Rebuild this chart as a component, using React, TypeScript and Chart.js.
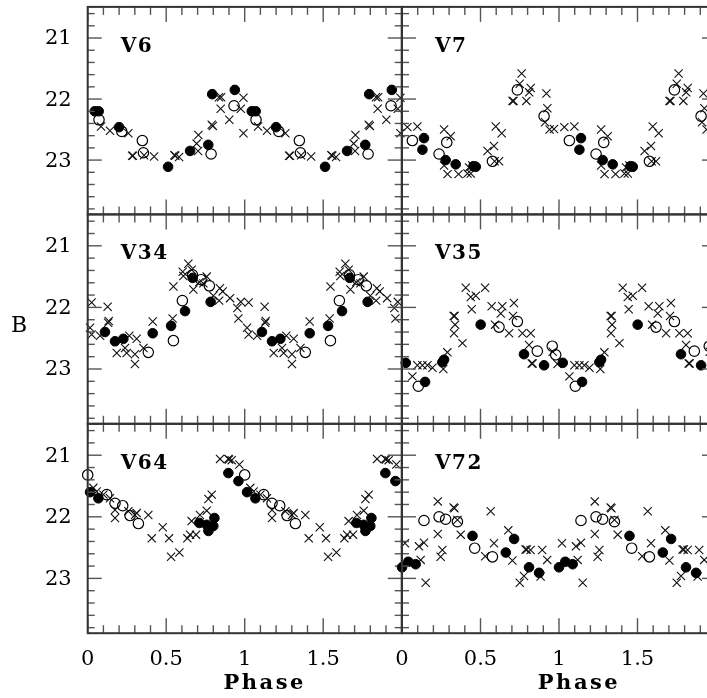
import { useEffect, useRef } from "react";
import { Chart, registerables } from "chart.js";

Chart.register(...registerables);

// ---------- axis labels ----------
const xTickLabels = [0, 0.5, 1, 1.5];
const yTickLabels = [21, 22, 23];
const xAxisTitle = "Phase";
const yAxisTitle = "B";

// ---------- data: [phase, B mag] (phase 0..1, plotted twice) ----------
const v6Filled = [[0.045, 22.2], [0.07, 22.2], [0.2, 22.46], [0.512, 23.11], [0.652, 22.85], [0.768, 22.75], [0.793, 21.92], [0.937, 21.85]];
const v6Open = [[0.072, 22.34], [0.217, 22.53], [0.348, 22.68], [0.355, 22.88], [0.786, 22.9], [0.932, 22.11]];
const v6Cross = [[0.085, 22.45], [0.142, 22.52], [0.259, 22.56], [0.283, 22.93], [0.288, 22.93], [0.359, 22.92], [0.423, 22.94], [0.552, 22.92], [0.558, 22.93], [0.582, 22.95], [0.694, 22.73], [0.703, 22.85], [0.705, 22.59], [0.79, 22.42], [0.797, 22.44], [0.836, 21.97], [0.85, 21.97], [0.847, 22.16], [0.902, 22.34], [0.975, 22.16], [0.992, 21.98], [0.992, 22.56]];

const v7Filled = [[0.13, 22.83], [0.14, 22.64], [0.278, 23.0], [0.342, 23.07], [0.455, 23.1], [0.47, 23.11]];
const v7Open = [[0.066, 22.68], [0.236, 22.9], [0.285, 22.71], [0.576, 23.02], [0.735, 21.85], [0.905, 22.28]];
const v7Cross = [[0.034, 22.46], [0.098, 22.45], [0.268, 22.5], [0.31, 22.61], [0.268, 23.09], [0.29, 23.23], [0.36, 23.23], [0.417, 23.22], [0.427, 23.12], [0.438, 23.22], [0.448, 23.09], [0.545, 22.85], [0.586, 22.77], [0.59, 23.02], [0.597, 22.45], [0.618, 23.02], [0.635, 22.56], [0.704, 22.03], [0.71, 22.03], [0.75, 21.75], [0.762, 21.58], [0.792, 22.03], [0.81, 21.89], [0.82, 21.82], [0.92, 21.91], [0.926, 22.15], [0.911, 22.38], [0.94, 22.5], [0.968, 22.49]];

const v34Filled = [[0.11, 22.4], [0.174, 22.55], [0.227, 22.51], [0.414, 22.42], [0.531, 22.3], [0.62, 22.06], [0.669, 21.52], [0.783, 21.91]];
const v34Open = [[0.386, 22.73], [0.546, 22.54], [0.603, 21.89], [0.667, 21.47], [0.722, 21.55], [0.775, 21.65]];
const v34Cross = [[0.015, 22.33], [0.025, 21.92], [0.025, 22.44], [0.079, 22.46], [0.127, 21.99], [0.13, 22.25], [0.134, 22.22], [0.185, 22.74], [0.238, 22.66], [0.248, 22.74], [0.265, 22.46], [0.301, 22.76], [0.312, 22.51], [0.301, 22.92], [0.355, 22.66], [0.414, 22.23], [0.546, 21.66], [0.541, 22.18], [0.605, 21.42], [0.609, 21.49], [0.641, 21.29], [0.662, 21.39], [0.673, 21.71], [0.711, 21.59], [0.737, 21.61], [0.758, 21.5], [0.8, 21.81], [0.837, 21.89], [0.842, 21.69], [0.86, 21.74], [0.907, 21.85], [0.953, 22.01], [0.96, 22.18], [0.975, 21.91]];

const v35Filled = [[0.024, 22.9], [0.147, 23.21], [0.257, 22.89], [0.268, 22.85], [0.501, 22.28], [0.777, 22.76], [0.905, 22.94]];
const v35Open = [[0.104, 23.28], [0.618, 22.32], [0.735, 22.23], [0.862, 22.71], [0.957, 22.63], [0.979, 22.77]];
const v35Cross = [[0.066, 23.12], [0.098, 22.94], [0.13, 22.94], [0.162, 22.94], [0.194, 22.98], [0.263, 23.0], [0.289, 22.73], [0.329, 22.14], [0.335, 22.14], [0.338, 22.28], [0.331, 22.42], [0.385, 22.58], [0.406, 21.68], [0.438, 21.83], [0.444, 22.03], [0.47, 21.81], [0.529, 21.68], [0.571, 21.98], [0.593, 22.28], [0.629, 22.1], [0.639, 21.98], [0.682, 22.42], [0.713, 21.93], [0.707, 22.14], [0.767, 22.42], [0.82, 22.42], [0.809, 22.61], [0.826, 22.91], [0.832, 22.91], [0.96, 22.72], [0.99, 22.92]];

const v64Filled = [[0.015, 21.6], [0.068, 21.7], [0.711, 22.1], [0.758, 22.13], [0.769, 22.23], [0.8, 22.15], [0.807, 22.02], [0.896, 21.29], [0.96, 21.42]];
const v64Open = [[0.0, 21.32], [0.121, 21.64], [0.174, 21.78], [0.223, 21.82], [0.27, 21.98], [0.323, 22.11]];
const v64Cross = [[0.036, 21.53], [0.057, 21.59], [0.1, 21.64], [0.142, 21.7], [0.174, 21.89], [0.174, 22.02], [0.259, 21.91], [0.301, 21.97], [0.312, 21.94], [0.386, 21.97], [0.408, 22.35], [0.478, 22.17], [0.518, 22.35], [0.531, 22.65], [0.584, 22.58], [0.635, 22.35], [0.652, 22.29], [0.69, 22.29], [0.662, 22.07], [0.715, 21.97], [0.758, 21.9], [0.769, 21.71], [0.79, 21.64], [0.843, 21.06], [0.896, 21.06], [0.9, 21.07], [0.917, 21.08], [0.966, 21.15]];

const v72Filled = [[0.0, 22.82], [0.04, 22.73], [0.087, 22.77], [0.449, 22.31], [0.661, 22.58], [0.714, 22.36], [0.809, 22.82], [0.873, 22.91]];
const v72Open = [[0.14, 22.06], [0.236, 22.0], [0.278, 22.04], [0.353, 22.08], [0.463, 22.51], [0.576, 22.65]];
const v72Cross = [[0.019, 22.43], [0.108, 22.48], [0.14, 22.42], [0.119, 22.7], [0.151, 23.07], [0.228, 21.75], [0.228, 22.28], [0.246, 22.65], [0.257, 22.54], [0.329, 21.85], [0.334, 21.86], [0.353, 22.05], [0.374, 22.29], [0.53, 22.64], [0.565, 21.91], [0.586, 22.43], [0.677, 22.22], [0.703, 22.71], [0.75, 23.07], [0.777, 22.96], [0.787, 22.53], [0.795, 22.53], [0.819, 22.54], [0.883, 22.97], [0.893, 22.54], [0.925, 22.7]];

type Pts = number[][];
interface PanelDef { name: string; filled: Pts; open: Pts; cross: Pts; col: number; row: number; }

const panels: PanelDef[] = [
  { name: "V6", filled: v6Filled, open: v6Open, cross: v6Cross, col: 0, row: 0 },
  { name: "V7", filled: v7Filled, open: v7Open, cross: v7Cross, col: 1, row: 0 },
  { name: "V34", filled: v34Filled, open: v34Open, cross: v34Cross, col: 0, row: 1 },
  { name: "V35", filled: v35Filled, open: v35Open, cross: v35Cross, col: 1, row: 1 },
  { name: "V64", filled: v64Filled, open: v64Open, cross: v64Cross, col: 0, row: 2 },
  { name: "V72", filled: v72Filled, open: v72Open, cross: v72Cross, col: 1, row: 2 },
];

// ---------- layout ----------
const CW = 730;
const CH = 698;
const COL_X = [87.7, 402];
const COL_W = 314;
const ROW_Y = [5, 214.4, 423.8];
const ROW_H = 209.4;
const Y_MIN = 20.49;
const Y_MAX = 23.89;

const twoCycles = (arr: Pts) => arr.flatMap(([p, m]) => [{ x: p, y: m }, { x: p + 1, y: m }]);

function makeDecor(def: PanelDef) {
  return {
    id: "panelDecor",
    afterDatasetsDraw(chart: any) {
      const { ctx, chartArea: a, scales } = chart;
      const xs = scales.x;
      const ys = scales.y;
      ctx.save();
      const line = (x1: number, y1: number, x2: number, y2: number) => {
        ctx.beginPath();
        ctx.moveTo(x1, y1);
        ctx.lineTo(x2, y2);
        ctx.stroke();
      };
      // ticks
      ctx.strokeStyle = "#555";
      ctx.lineWidth = 1.4;
      for (let i = 0; i <= 20; i++) {
        const px = xs.getPixelForValue(i / 10);
        const len = i % 5 === 0 ? 15 : 8;
        line(px, a.top, px, a.top + len);
        line(px, a.bottom, px, a.bottom - len);
      }
      for (let k = 103; k <= 119; k++) {
        const py = ys.getPixelForValue(k * 0.2);
        const len = k % 5 === 0 ? 14 : 7;
        line(a.left, py, a.left + len, py);
        line(a.right, py, a.right - len, py);
      }
      // frame
      ctx.strokeStyle = "#333";
      ctx.lineWidth = 2;
      ctx.strokeRect(a.left, a.top, a.right - a.left, a.bottom - a.top);

      ctx.fillStyle = "#000";
      // panel name
      ctx.font = "bold 20px 'DejaVu Serif'";
      (ctx as any).letterSpacing = "1.5px";
      ctx.textAlign = "left";
      ctx.textBaseline = "alphabetic";
      ctx.fillText(def.name, a.left + 33, a.top + 45);
      (ctx as any).letterSpacing = "0px";

      ctx.font = "21px 'DejaVu Serif'";
      if (def.col === 0) {
        ctx.textAlign = "right";
        ctx.textBaseline = "middle";
        yTickLabels.forEach((v) => {
          ctx.fillText(String(v), a.left - 16, ys.getPixelForValue(v) + 1);
        });
      }
      if (def.row === 2) {
        ctx.textAlign = "center";
        ctx.textBaseline = "alphabetic";
        xTickLabels.forEach((v) => {
          ctx.fillText(String(v), xs.getPixelForValue(v), a.bottom + 32);
        });
        ctx.font = "bold 21px 'DejaVu Serif'";
        (ctx as any).letterSpacing = "2.5px";
        ctx.fillText(xAxisTitle, a.left + 177, a.bottom + 56);
        (ctx as any).letterSpacing = "0px";
      }
      if (def.col === 0 && def.row === 1) {
        ctx.font = "22px 'DejaVu Serif'";
        ctx.textAlign = "center";
        ctx.textBaseline = "alphabetic";
        ctx.fillText(yAxisTitle, 19, a.top + 118);
      }
      ctx.restore();
    },
  };
}

function Panel({ def }: { def: PanelDef }) {
  const ref = useRef<HTMLCanvasElement>(null);
  useEffect(() => {
    const x0 = COL_X[def.col];
    const x1 = x0 + COL_W;
    const y0 = ROW_Y[def.row];
    const y1 = y0 + ROW_H;
    const chart = new Chart(ref.current as HTMLCanvasElement, {
      type: "scatter",
      data: {
        datasets: [
          {
            label: "filled",
            data: twoCycles(def.filled),
            pointStyle: "circle",
            pointRadius: 4.8,
            borderWidth: 1,
            backgroundColor: "#000",
            borderColor: "#000",
            clip: 8,
          },
          {
            label: "open",
            data: twoCycles(def.open),
            pointStyle: "circle",
            pointRadius: 5.2,
            borderWidth: 1.2,
            backgroundColor: "rgba(0,0,0,0)",
            borderColor: "#000",
            clip: 8,
          },
          {
            label: "cross",
            data: twoCycles(def.cross),
            pointStyle: "crossRot",
            pointRadius: 5.8,
            borderWidth: 1.1,
            backgroundColor: "#000",
            borderColor: "#111",
            clip: 8,
          },
        ] as any,
      },
      options: {
        animation: false,
        responsive: false,
        devicePixelRatio: 1,
        events: [],
        layout: { padding: { left: x0, right: CW - x1, top: y0, bottom: CH - y1 } },
        scales: {
          x: { type: "linear", min: 0, max: 2, display: false },
          y: { type: "linear", min: Y_MIN, max: Y_MAX, reverse: true, display: false },
        },
        plugins: { legend: { display: false }, tooltip: { enabled: false } },
      },
      plugins: [makeDecor(def)],
    });
    return () => chart.destroy();
  }, [def]);
  return (
    <canvas
      ref={ref}
      width={CW}
      height={CH}
      style={{ position: "absolute", left: 0, top: 0, width: CW, height: CH }}
    />
  );
}

export default function App() {
  return (
    <div
      style={{
        position: "absolute",
        left: 0,
        top: 0,
        width: 707,
        height: 698,
        overflow: "hidden",
        background: "#fff",
      }}
    >
      {panels.map((p) => (
        <Panel key={p.name} def={p} />
      ))}
    </div>
  );
}
